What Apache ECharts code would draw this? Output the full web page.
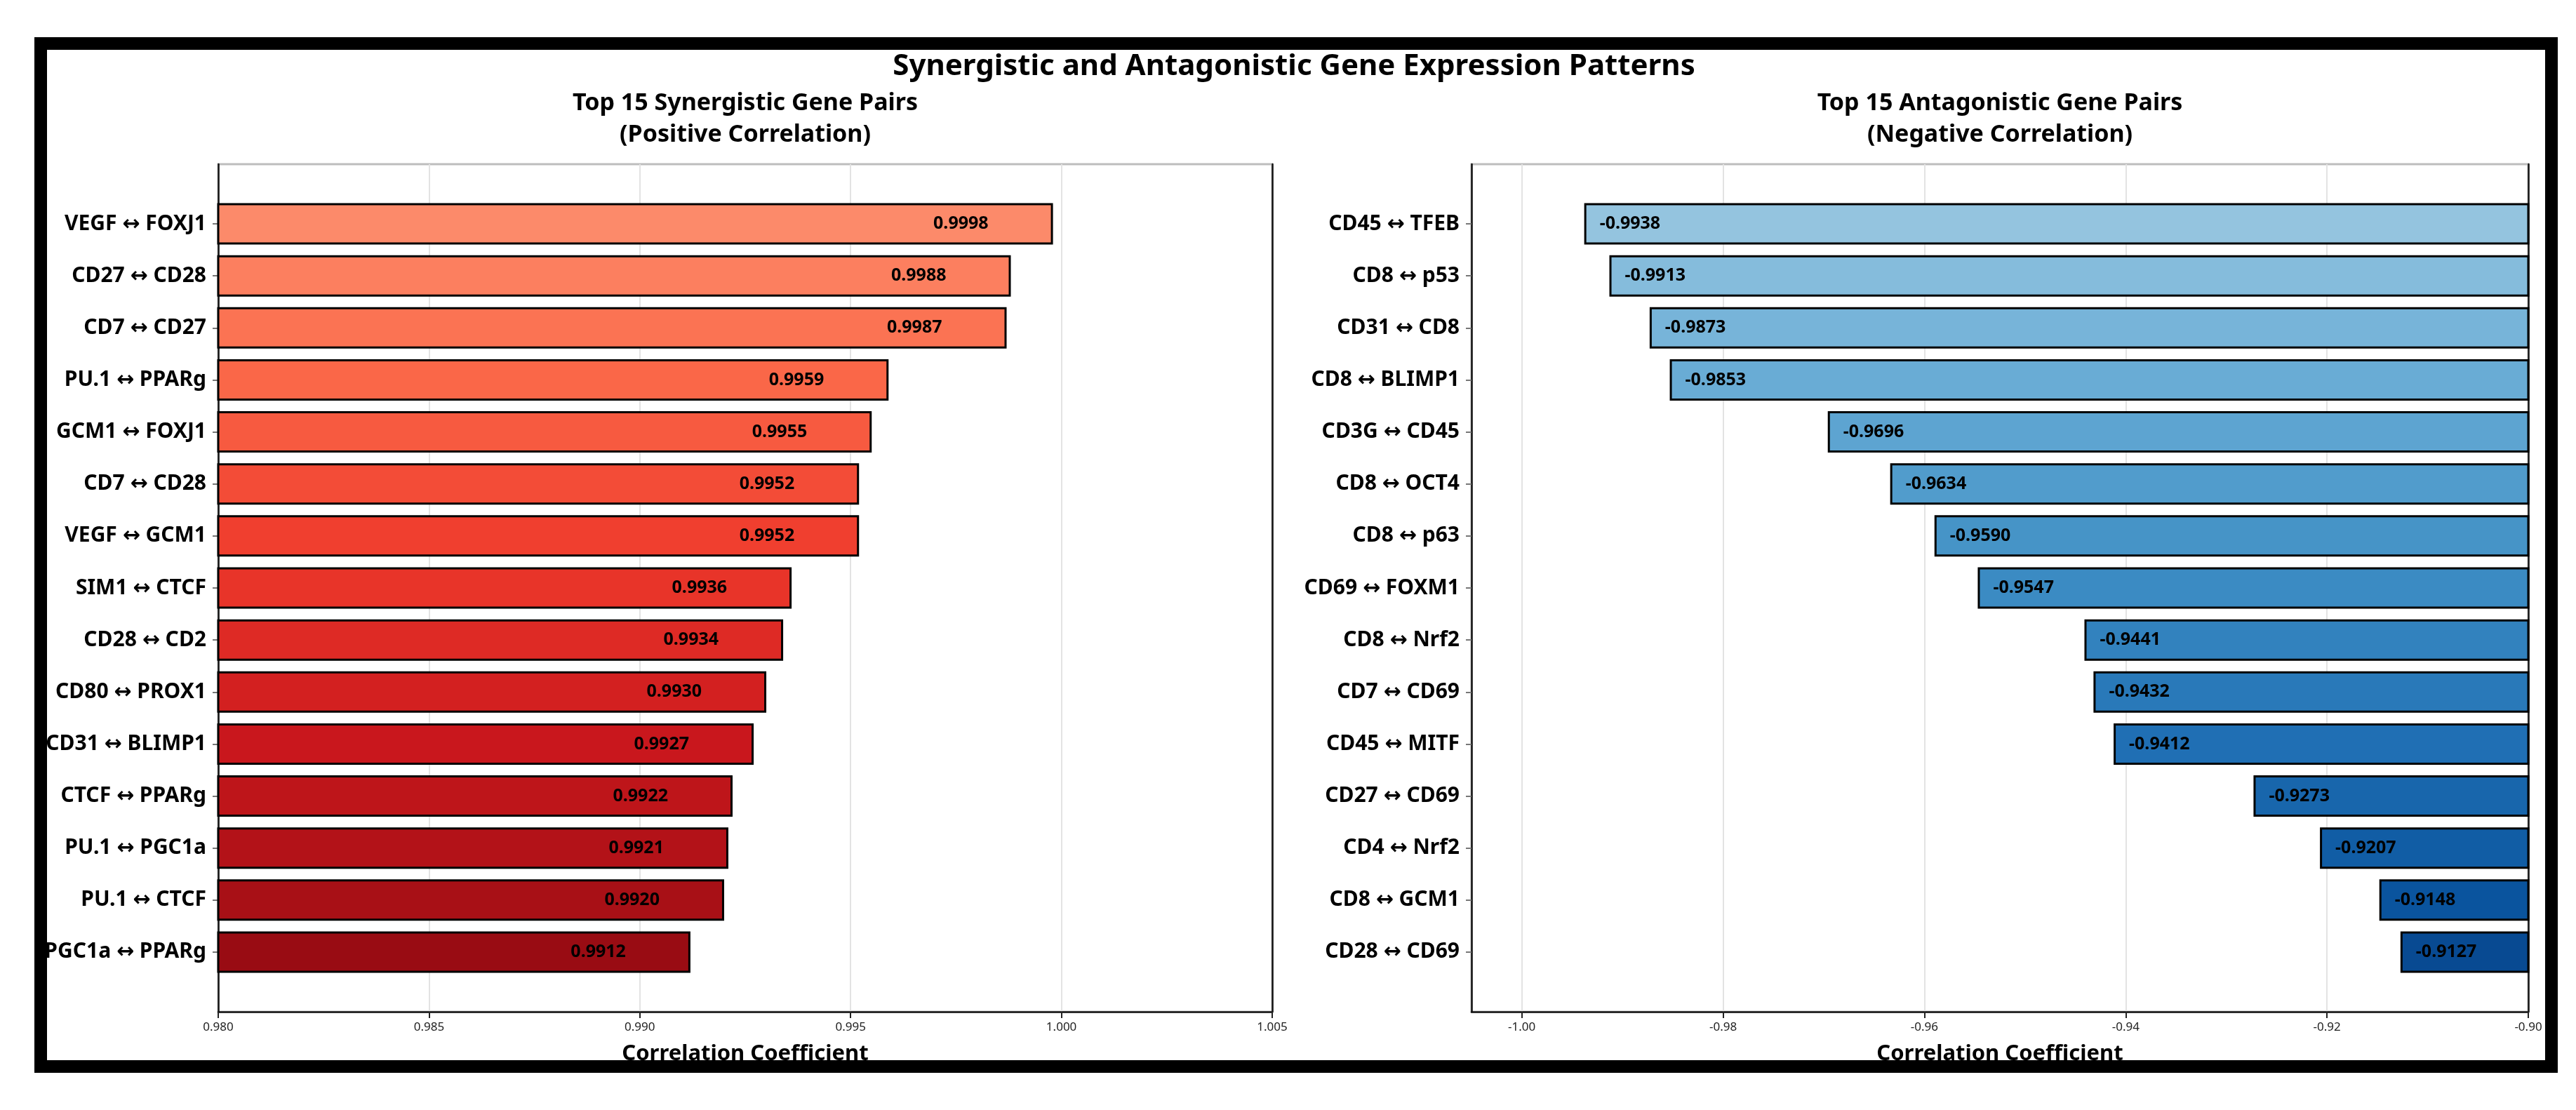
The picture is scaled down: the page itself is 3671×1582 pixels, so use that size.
<!DOCTYPE html>
<html><head><meta charset="utf-8">
<script src="https://cdn.jsdelivr.net/npm/echarts@6/dist/echarts.min.js"></script>
<style>html,body{margin:0;padding:0;background:#fff}#c{width:3671px;height:1582px}</style>
</head><body><div id="c"></div>
<script>
const posPairs = ['VEGF ↔ FOXJ1','CD27 ↔ CD28','CD7 ↔ CD27','PU.1 ↔ PPARg','GCM1 ↔ FOXJ1','CD7 ↔ CD28','VEGF ↔ GCM1','SIM1 ↔ CTCF','CD28 ↔ CD2','CD80 ↔ PROX1','CD31 ↔ BLIMP1','CTCF ↔ PPARg','PU.1 ↔ PGC1a','PU.1 ↔ CTCF','PGC1a ↔ PPARg'];
const posValues = [0.9998,0.9988,0.9987,0.9959,0.9955,0.9952,0.9952,0.9936,0.9934,0.9930,0.9927,0.9922,0.9921,0.9920,0.9912];
const negPairs = ['CD45 ↔ TFEB','CD8 ↔ p53','CD31 ↔ CD8','CD8 ↔ BLIMP1','CD3G ↔ CD45','CD8 ↔ OCT4','CD8 ↔ p63','CD69 ↔ FOXM1','CD8 ↔ Nrf2','CD7 ↔ CD69','CD45 ↔ MITF','CD27 ↔ CD69','CD4 ↔ Nrf2','CD8 ↔ GCM1','CD28 ↔ CD69'];
const negValues = [-0.9938,-0.9913,-0.9873,-0.9853,-0.9696,-0.9634,-0.9590,-0.9547,-0.9441,-0.9432,-0.9412,-0.9273,-0.9207,-0.9148,-0.9127];
const posTicks = [0.980,0.985,0.990,0.995,1.000,1.005];
const negTicks = [-1.00,-0.98,-0.96,-0.94,-0.92,-0.90];
const mainTitle = 'Synergistic and Antagonistic Gene Expression Patterns';
const posTitle = 'Top 15 Synergistic Gene Pairs\n(Positive Correlation)';
const negTitle = 'Top 15 Antagonistic Gene Pairs\n(Negative Correlation)';
const axisTitle = 'Correlation Coefficient';

// colormap anchors (matplotlib Reds / Blues)
const redsCM = ['#fff5f0','#fee0d2','#fcbba1','#fc9272','#fb6a4a','#ef3b2c','#cb181d','#a50f15','#67000d'];
const bluesCM = ['#f7fbff','#deebf7','#c6dbef','#9ecae1','#6baed6','#4292c6','#2171b5','#08519c','#08306b'];
function hex2rgb(h){return [parseInt(h.substr(1,2),16),parseInt(h.substr(3,2),16),parseInt(h.substr(5,2),16)];}
function cmap(anchors,t){
  const n=anchors.length-1; const p=t*n; let i=Math.floor(p); if(i>=n)i=n-1; const f=p-i;
  const a=hex2rgb(anchors[i]), b=hex2rgb(anchors[i+1]);
  return 'rgb('+a.map((v,k)=>Math.round(v+(b[k]-v)*f)).join(',')+')';
}
function palette(anchors,count){const out=[];for(let i=0;i<count;i++){out.push(cmap(anchors,0.4+0.5*i/(count-1)));}return out;}
const redCols = palette(redsCM,posValues.length);
const blueCols = palette(bluesCM,negValues.length);

const FONT = '"Noto Sans","DejaVu Sans",sans-serif';
const G = [
  {left:311,top:234,width:1502,height:1208},
  {left:311,top:282,width:1502,height:1112},
  {left:2097,top:234,width:1506,height:1208},
  {left:2097,top:282,width:1506,height:1112}
];

function outerX(gi,min,max,opts){
  return Object.assign({
    type:'value',gridIndex:gi,min:min,max:max,position:'bottom',
    axisLine:{show:true,onZero:false,lineStyle:{color:'#111',width:2.5}},
    axisTick:{show:true,length:9,lineStyle:{color:'#222',width:2}},
    axisLabel:{fontFamily:FONT,fontSize:17,color:'#222',margin:14},
    splitLine:{show:true,lineStyle:{color:'#e3e3e3',width:2}},
    name:axisTitle,nameLocation:'middle',nameGap:45,
    nameTextStyle:{fontFamily:FONT,fontSize:31,fontWeight:'bold',color:'#000'}
  },opts);
}
function hiddenX(gi,min,max){
  return {type:'value',gridIndex:gi,min:min,max:max,show:false,splitLine:{show:false}};
}
function frameY(gi,pos){
  return {type:'value',gridIndex:gi,min:0,max:1,position:pos,
    axisLine:{show:true,onZero:false,lineStyle:{color:'#111',width:2.5}},
    axisTick:{show:false},axisLabel:{show:false},splitLine:{show:false}};
}
function catY(gi,data){
  return {type:'category',gridIndex:gi,data:data,inverse:true,
    axisLine:{show:false},
    axisTick:{show:true,alignWithLabel:true,length:8,lineStyle:{color:'#777',width:2}},
    axisLabel:{fontFamily:FONT,fontSize:30,fontWeight:'bold',color:'#000',margin:17},
    splitLine:{show:false}};
}

const option = {
  animation:false,
  backgroundColor:'#fff',
  grid:G.map((g,i)=>Object.assign({},g,{containLabel:false,show:(i%2===0),borderColor:'#bdbdbd',borderWidth:3,backgroundColor:'transparent'})),
  xAxis:[
    outerX(0,posTicks[0],posTicks[posTicks.length-1],{interval:0.005,axisLabel:{fontFamily:FONT,fontSize:17,color:'#222',margin:14,formatter:v=>v.toFixed(3)}}),
    hiddenX(1,posTicks[0],posTicks[posTicks.length-1]),
    outerX(2,-1.005,negTicks[negTicks.length-1],{
      axisLabel:{fontFamily:FONT,fontSize:17,color:'#222',margin:14,customValues:negTicks,formatter:v=>v.toFixed(2)},
      axisTick:{show:true,length:9,customValues:negTicks,lineStyle:{color:'#222',width:2}}
    }),
    hiddenX(3,-1.005,negTicks[negTicks.length-1])
  ],
  yAxis:[
    frameY(0,'left'),frameY(0,'right'),catY(1,posPairs),
    frameY(2,'left'),frameY(2,'right'),catY(3,negPairs)
  ],
  series:[
    {type:'bar',xAxisIndex:1,yAxisIndex:2,barWidth:59,clip:true,
      data:posValues.map((v,i)=>({value:v,itemStyle:{color:redCols[i]}})),
      itemStyle:{borderColor:'#000',borderWidth:3},
      label:{show:true,position:'insideRight',distance:92,fontFamily:FONT,fontSize:25,fontWeight:'bold',color:'#000',formatter:p=>p.value.toFixed(4)}},
    {type:'bar',xAxisIndex:3,yAxisIndex:5,barWidth:59,clip:true,
      data:negValues.map((v,i)=>({value:v,itemStyle:{color:blueCols[i]}})),
      itemStyle:{borderColor:'#000',borderWidth:3},
      label:{show:true,position:'insideLeft',distance:22,fontFamily:FONT,fontSize:25,fontWeight:'bold',color:'#000',formatter:p=>p.value.toFixed(4)}}
  ],
  graphic:[
    {type:'text',x:1844,y:95,z:50,style:{text:mainTitle,fontFamily:FONT,fontSize:42,fontWeight:'bold',fill:'#000',textAlign:'center',textVerticalAlign:'middle'}},
    {type:'text',x:1062,y:170,z:50,style:{text:posTitle,fontFamily:FONT,fontSize:34,fontWeight:'bold',fill:'#000',textAlign:'center',textVerticalAlign:'middle',lineHeight:45}},
    {type:'text',x:2850,y:170,z:50,style:{text:negTitle,fontFamily:FONT,fontSize:34,fontWeight:'bold',fill:'#000',textAlign:'center',textVerticalAlign:'middle',lineHeight:45}},
    {type:'rect',z:100,shape:{x:58,y:62,width:3578,height:1458},style:{fill:'none',stroke:'#000',lineWidth:18}}
  ]
};
const chart = echarts.init(document.getElementById('c'),null,{renderer:'canvas'});
chart.setOption(option);
</script></body></html>
